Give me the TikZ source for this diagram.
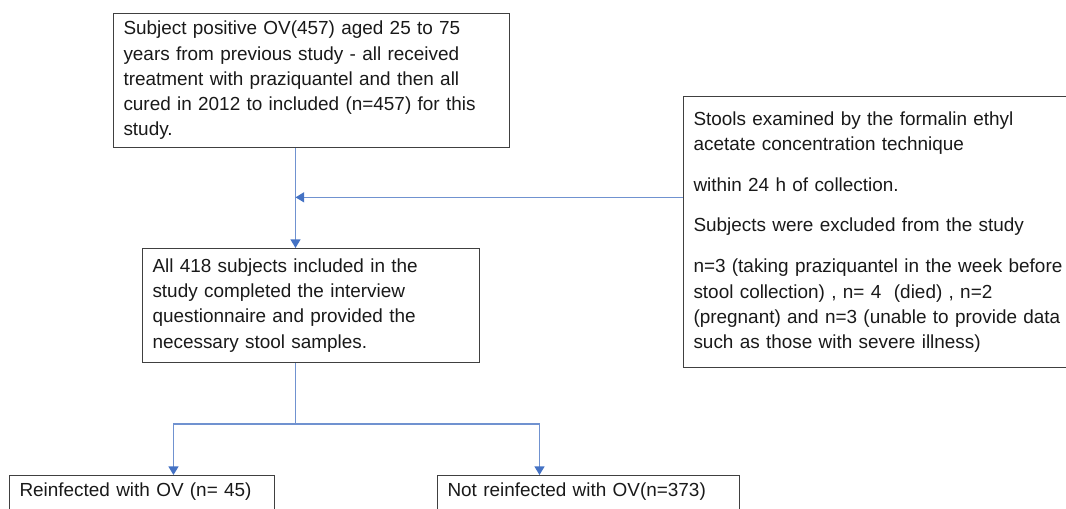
\documentclass[tikz,border=0pt]{standalone}
\usepackage{xcolor}
\usepackage{fontspec}
\setmainfont{Liberation Sans}
\usetikzlibrary{arrows.meta}
\definecolor{flowline}{RGB}{112,146,208}
\definecolor{flowtip}{RGB}{68,114,196}
\definecolor{boxline}{RGB}{64,64,64}
\definecolor{boxtext}{RGB}{25,25,25}
\tikzstyle{box}=[draw=boxline, line width=0.75pt, anchor=north west, align=left, inner xsep=7.5pt, text=boxtext, font=\fontsize{14.2}{18.9}\selectfont]
\tikzstyle{link}=[color=flowline, line width=1.1pt]
\tikzstyle{flow}=[link, -{Triangle[width=7.5pt,length=6.5pt,color=flowtip]}]
\begin{document}
\begin{tikzpicture}[x=0.75pt,y=-0.75pt]
  \useasboundingbox (0,0) rectangle (1066,509);

  \draw (113,13) node[box, text width=282pt, minimum height=100.5pt] (prev) {Subject positive OV(457) aged 25 to 75\\ years from previous study - all received\\ treatment with praziquantel and then all\\ cured in 2012 to included (n=457) for this\\ study.};
  \draw (683,96) node[box, text width=300pt, minimum height=203.25pt] (exam) {Stools examined by the formalin ethyl\\ acetate concentration technique\\[12pt] within 24 h of collection.\\[11pt] Subjects were excluded from the study\\[12pt] n=3 (taking praziquantel in the week before\\ stool collection) , n= 4~~(died) , n=2\\ (pregnant) and n=3 (unable to provide data\\ such as those with severe illness)};
  \draw (142,248) node[box, text width=237.75pt, minimum height=85.5pt] (whole) {All 418 subjects included in the\\ study completed the interview\\ questionnaire and provided the\\ necessary stool samples.};

  \draw (9,475) node[box, text width=183.75pt, text height=10pt, text depth=13pt, inner ysep=6pt] (reinf) {Reinfected with OV (n= 45)};
  \draw (437,475) node[box, text width=211.5pt, text height=10pt, text depth=13pt, inner ysep=6pt] (notre) {Not reinfected with OV(n=373)};

  %% Connectors
  \coordinate (spine) at ([xshift=-12pt]prev.south);
  \draw[flow] (spine) -- (spine |- whole.north);
  \coordinate (feed) at ([yshift=26pt]exam.west);
  \draw[flow] (feed) -- (feed -| spine);
  \coordinate (fork) at (spine |- 0,424);
  \draw[link] (spine |- whole.south) -- (fork);
  \draw[flow] (fork) -| ([xshift=23.6pt]reinf.north);
  \draw[flow] (fork) -| ([xshift=-36.75pt]notre.north);
\end{tikzpicture}
\end{document}
